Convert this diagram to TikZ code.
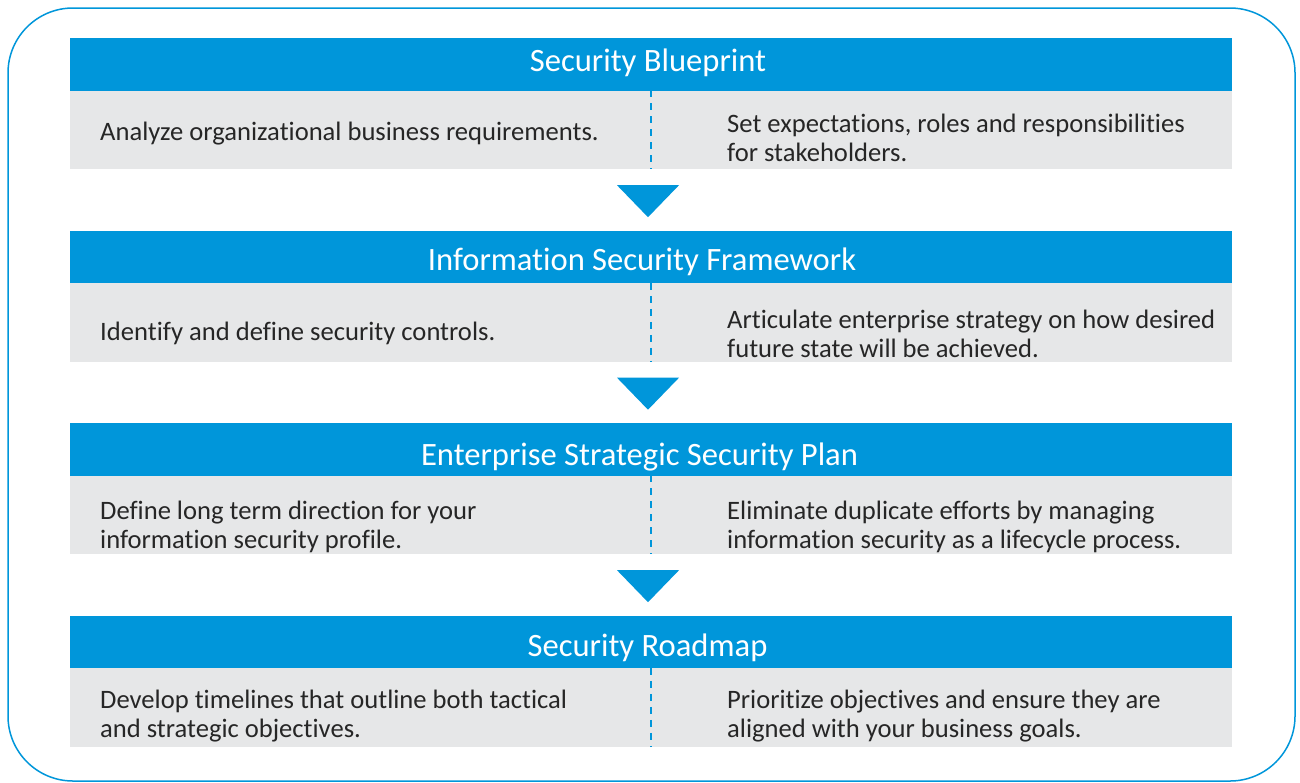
\documentclass[tikz,border=0pt]{standalone}
\usepackage{fontspec}
\setmainfont{Carlito}[Ligatures=NoCommon]
\usetikzlibrary{calc}
\definecolor{secblue}{HTML}{0096DA}
\definecolor{secgray}{HTML}{E6E7E8}
\definecolor{sectext}{HTML}{262626}

\begin{document}
\begin{tikzpicture}[x=1pt, y=-1pt,
	head/.style={fill=secblue, minimum width=1162pt, minimum height=52.5pt, inner sep=0pt},
	title/.style={anchor=base, text=white, inner sep=0pt, font=\fontsize{32.6}{38}\selectfont},
	band/.style={fill=secgray, minimum width=1162pt, minimum height=78.5pt, inner sep=0pt},
	txt/.style={anchor=west, align=left, text=sectext, inner sep=0pt, font=\fontsize{26.6}{29}\selectfont},
	divider/.style={draw=secblue, line width=2.5pt, dash pattern=on 7pt off 6pt},
	pointer/.style={fill=secblue}]
				\useasboundingbox (0,0) rectangle (1300,782);
				\draw[secblue, line width=1.5pt, rounded corners=65pt] (8,8) rectangle (1295,781);
				% section 1
				\node[head] (h1) at (651, 64.25) {};
				\node[title] (t1) at (648, 71) {Security Blueprint};
				\node[band] (b1) at (651, 129.75) {};
				\node[txt] (l1) at (100, 134) {Analyze organizational business requirements.};
				\node[txt] (r1) at (727, 137.5) {Set expectations, roles and responsibilities\\ for stakeholders.};
				\draw[divider] (b1.north) -- (b1.south);
				\fill[pointer] ($(b1.south)+(-34,16)$) -- ++(62,0) -- ++(-31,32) -- cycle;
				% section 2
				\node[head] (h2) at (651, 256.75) {};
				\node[title] (t2) at (642, 270) {Information Security Framework};
				\node[band] (b2) at (651, 322.25) {};
				\node[txt] (l2) at (100, 333) {Identify and define security controls.};
				\node[txt] (r2) at (727, 334) {Articulate enterprise strategy on how desired\\ future state will be achieved.};
				\draw[divider] (b2.north) -- (b2.south);
				\fill[pointer] ($(b2.south)+(-34,16)$) -- ++(62,0) -- ++(-31,32) -- cycle;
				% section 3
				\node[head] (h3) at (651, 449.25) {};
				\node[title] (t3) at (639.5, 465.7) {Enterprise Strategic Security Plan};
				\node[band] (b3) at (651, 514.75) {};
				\node[txt] (l3) at (100, 527) {Define long term direction for your\\ information security profile.};
				\node[txt] (r3) at (727, 527) {Eliminate duplicate efforts by managing\\ information security as a lifecycle process.};
				\draw[divider] (b3.north) -- (b3.south);
				\fill[pointer] ($(b3.south)+(-34,16)$) -- ++(62,0) -- ++(-31,32) -- cycle;
				% section 4
				\node[head] (h4) at (651, 641.75) {};
				\node[title] (t4) at (647.5, 656.7) {Security Roadmap};
				\node[band] (b4) at (651, 707.25) {};
				\node[txt] (l4) at (100, 716.5) {Develop timelines that outline both tactical\\ and strategic objectives.};
				\node[txt] (r4) at (727, 716.5) {Prioritize objectives and ensure they are\\ aligned with your business goals.};
				\draw[divider] (b4.north) -- (b4.south);
\end{tikzpicture}
\end{document}
